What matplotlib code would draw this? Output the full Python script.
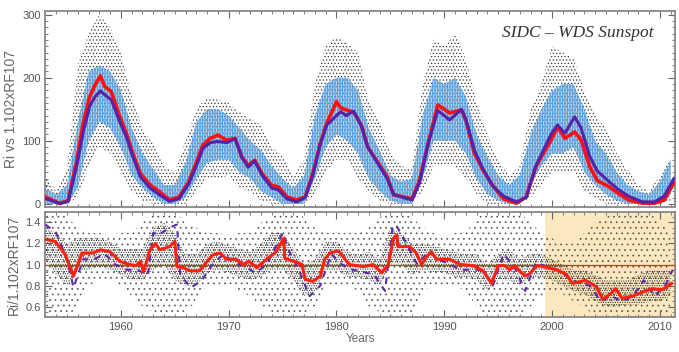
import numpy as np
import matplotlib.pyplot as plt
from matplotlib.ticker import MultipleLocator

# ---- smoothed series (top panel)
smooth_years = [1953.0, 1953.6, 1954.3, 1955.1, 1955.9, 1956.5, 1957.1, 1957.6, 1958.1, 1958.5,
                1959.1, 1959.9, 1960.5, 1961.1, 1961.8, 1962.7, 1963.6, 1964.5, 1965.4, 1966.3,
                1967.0, 1967.6, 1968.3, 1969.0, 1969.8, 1970.6, 1971.2, 1971.8, 1972.4, 1973.1,
                1974.0, 1974.6, 1975.4, 1976.3, 1977.1, 1977.8, 1978.5, 1979.1, 1980.0, 1980.4,
                1980.9, 1981.6, 1982.3, 1982.9, 1983.9, 1984.7, 1985.3, 1986.2, 1987.0, 1987.7,
                1988.5, 1989.4, 1990.5, 1991.6, 1992.0, 1992.8, 1993.6, 1994.5, 1995.5, 1996.7,
                1997.6, 1998.5, 1999.2, 1999.9, 2000.5, 2001.2, 2002.1, 2002.7, 2003.5, 2004.2,
                2005.3, 2006.2, 2007.1, 2008.4, 2009.5, 2010.4, 2011.3]
ri_smooth = [11, 6, 1, 5, 69, 128, 170, 189, 203, 186,
             178, 138, 112, 80, 48, 30, 19, 6, 11, 35,
             66, 93, 104, 109, 101, 104, 75, 61, 69, 48,
             29, 27, 11, 6, 11, 48, 96, 128, 162, 152,
             149, 145, 125, 90, 64, 43, 14, 11, 8, 37,
             96, 157, 144, 149, 133, 80, 53, 29, 8, 1,
             11, 59, 80, 101, 122, 104, 114, 101, 59, 37,
             27, 16, 6, 1, 1, 6, 33]
rf_smooth = [8, 5, 0, 4, 60, 114, 155, 170, 179, 173,
             165, 130, 106, 75, 43, 25, 14, 4, 8, 32,
             60, 88, 97, 99, 97, 103, 74, 58, 68, 45,
             25, 22, 8, 3, 10, 45, 95, 125, 140, 146,
             140, 147, 124, 90, 62, 40, 15, 10, 6, 33,
             95, 148, 133, 150, 134, 85, 55, 28, 12, 3,
             10, 60, 85, 110, 125, 112, 138, 120, 75, 52,
             35, 22, 12, 3, 3, 12, 40]

# ---- daily scatter envelopes (yearly), top panel
env_years = list(range(1953, 2012))
rf_daily_lo = [0, 0, 0, 25, 100, 130, 120, 90, 45, 25, 10, 0, 0, 10, 40, 65, 70, 70, 50, 40,
               20, 10, 0, 0, 0, 40, 90, 110, 100, 80, 40, 20, 5, 0, 0, 40, 100, 100, 100, 80,
               40, 15, 5, 0, 0, 30, 60, 80, 80, 90, 50, 30, 15, 5, 0, 0, 0, 0, 15]
rf_daily_hi = [25, 15, 30, 130, 210, 220, 210, 180, 120, 80, 55, 30, 30, 65, 130, 150, 150, 140, 120, 100,
               85, 60, 40, 25, 45, 140, 190, 200, 200, 180, 120, 85, 45, 35, 40, 140, 200, 190, 200, 170,
               110, 75, 45, 30, 45, 110, 150, 180, 190, 190, 150, 100, 80, 50, 30, 20, 15, 35, 70]
ri_daily_lo = [0, 0, 0, 10, 60, 90, 80, 50, 20, 5, 0, 0, 0, 0, 20, 40, 40, 45, 25, 20,
               5, 0, 0, 0, 0, 15, 50, 70, 70, 40, 20, 5, 0, 0, 0, 20, 60, 60, 60, 40,
               15, 0, 0, 0, 0, 10, 30, 50, 50, 50, 20, 10, 0, 0, 0, 0, 0, 0, 5]
ri_daily_hi = [45, 20, 55, 220, 270, 300, 280, 240, 170, 120, 95, 60, 50, 100, 150, 170, 165, 160, 145, 135,
               125, 90, 75, 45, 70, 190, 250, 265, 255, 240, 160, 130, 80, 60, 55, 190, 260, 250, 270, 230,
               160, 110, 70, 45, 60, 150, 190, 250, 240, 230, 180, 140, 120, 80, 55, 30, 20, 45, 70]

# ---- ratio panel
ratio_years = [1953.0, 1953.9, 1954.8, 1955.6, 1956.4, 1957.4, 1958.1, 1959.0, 1959.9, 1960.8,
               1961.4, 1961.8, 1962.1, 1962.7, 1963.2, 1963.6, 1964.5, 1965.0, 1965.2, 1965.8,
               1966.4, 1967.3, 1968.0, 1968.5, 1969.2, 1969.8, 1970.7, 1971.3, 1971.9, 1972.6,
               1973.5, 1974.4, 1975.1, 1975.2, 1976.3, 1976.8, 1977.1, 1977.8, 1978.5, 1978.9,
               1979.4, 1980.2, 1980.8, 1981.2, 1982.5, 1983.4, 1984.2, 1984.8, 1985.3, 1985.6,
               1985.7, 1986.8, 1987.4, 1987.9, 1988.4, 1988.8, 1989.3, 1990.5, 1991.5, 1992.7,
               1993.6, 1994.4, 1995.0, 1995.6, 1996.1, 1996.5, 1997.5, 1997.9, 1998.6, 1999.2,
               2000.4, 2001.3, 2001.9, 2003.1, 2004.1, 2004.7, 2005.4, 2005.9, 2006.5, 2007.5,
               2008.4, 2009.3, 2010.2, 2011.1]
ratio_smooth = [1.24, 1.22, 1.10, 0.89, 1.11, 1.11, 1.14, 1.12, 1.03, 1.00,
                0.99, 1.03, 0.93, 1.14, 1.20, 1.14, 1.17, 1.22, 0.98, 0.97,
                0.94, 0.94, 1.03, 1.09, 1.11, 1.05, 1.05, 1.00, 1.03, 0.97,
                1.05, 1.12, 1.25, 1.06, 1.02, 1.00, 0.86, 0.84, 0.89, 1.05,
                1.11, 1.13, 1.05, 1.00, 0.98, 1.00, 0.92, 1.00, 1.25, 1.28,
                1.17, 1.17, 1.11, 1.00, 1.08, 1.12, 1.05, 1.05, 1.00, 0.99,
                0.94, 0.82, 0.99, 0.99, 0.95, 0.99, 0.89, 0.91, 0.99, 0.98,
                0.95, 0.91, 0.82, 0.85, 0.79, 0.67, 0.72, 0.77, 0.68, 0.70,
                0.74, 0.77, 0.76, 0.82]

ratio_fit_years = [1953.0, 1954.0, 1955.0, 1955.6, 1956.5, 1957.5, 1958.5, 1959.5, 1960.5, 1961.5,
                   1962.5, 1963.0, 1963.5, 1964.5, 1965.2, 1965.5, 1966.5, 1967.5, 1968.5, 1969.5,
                   1970.5, 1971.5, 1972.5, 1973.5, 1974.5, 1975.0, 1975.5, 1976.5, 1977.5, 1978.5,
                   1979.5, 1980.5, 1981.5, 1982.5, 1983.5, 1984.5, 1985.2, 1985.5, 1986.5, 1987.5,
                   1988.5, 1989.5, 1990.5, 1991.5, 1992.5, 1993.5, 1994.5, 1995.5, 1996.5, 1997.5,
                   1998.5, 1999.5, 2000.5, 2001.5, 2002.5, 2003.5, 2004.5, 2005.5, 2006.5, 2007.5,
                   2008.5, 2009.5, 2010.5, 2011.2]
ratio_fit = [1.38, 1.30, 1.05, 0.78, 1.05, 1.05, 1.10, 1.00, 0.95, 0.95,
             0.90, 1.30, 1.28, 1.35, 1.38, 0.90, 0.78, 0.85, 1.00, 1.10,
             1.02, 0.98, 0.92, 1.00, 1.20, 1.30, 1.15, 0.95, 0.70, 0.80,
             1.10, 1.00, 0.95, 0.93, 0.90, 0.75, 1.35, 1.38, 1.20, 1.00,
             1.12, 1.05, 1.00, 0.95, 0.95, 0.95, 0.80, 1.10, 0.98, 0.75,
             1.02, 0.98, 0.95, 0.88, 0.82, 0.80, 0.65, 0.70, 0.65, 0.70,
             0.85, 0.70, 0.80, 0.95]

ratio_lo = [0.55, 0.5, 0.5, 0.6, 0.8, 0.85, 0.85, 0.8, 0.7, 0.6, 0.55, 0.5, 0.5, 0.55, 0.65, 0.8, 0.8, 0.8, 0.75, 0.7,
            0.6, 0.55, 0.5, 0.5, 0.5, 0.6, 0.8, 0.8, 0.8, 0.75, 0.6, 0.55, 0.5, 0.5, 0.55, 0.75, 0.8, 0.8, 0.8, 0.75,
            0.6, 0.5, 0.5, 0.5, 0.5, 0.6, 0.7, 0.75, 0.72, 0.65, 0.6, 0.5, 0.5, 0.5, 0.5, 0.5, 0.5, 0.5, 0.55]
ratio_hi = [1.5, 1.5, 1.45, 1.35, 1.3, 1.3, 1.28, 1.3, 1.3, 1.4, 1.5, 1.5, 1.5, 1.4, 1.35, 1.3, 1.3, 1.28, 1.3, 1.3,
            1.4, 1.45, 1.5, 1.5, 1.45, 1.35, 1.3, 1.3, 1.3, 1.3, 1.35, 1.45, 1.5, 1.5, 1.45, 1.35, 1.3, 1.28, 1.3, 1.3,
            1.45, 1.5, 1.5, 1.5, 1.5, 1.4, 1.3, 1.25, 1.2, 1.2, 1.3, 1.4, 1.45, 1.5, 1.5, 1.5, 1.5, 1.4, 1.3]
ratio_core_lo = [1.05, 0.9, 0.8, 0.95, 0.95, 0.98, 0.95, 0.9, 0.85, 0.85, 0.95, 1.0, 0.85, 0.8, 0.8, 0.92, 0.95, 0.92, 0.88, 0.85,
                 0.88, 0.95, 0.95, 0.85, 0.7, 0.75, 0.95, 0.95, 0.88, 0.88, 0.85, 0.8, 1.0, 1.0, 0.9, 0.95, 0.92, 0.92, 0.88, 0.88,
                 0.85, 0.75, 0.85, 0.85, 0.8, 0.88, 0.88, 0.85, 0.8, 0.75, 0.72, 0.65, 0.6, 0.6, 0.62, 0.62, 0.65, 0.65, 0.7]
ratio_core_hi = [1.35, 1.3, 1.2, 1.25, 1.25, 1.25, 1.22, 1.15, 1.15, 1.15, 1.35, 1.4, 1.3, 1.1, 1.1, 1.2, 1.22, 1.18, 1.15, 1.12,
                 1.2, 1.3, 1.3, 1.15, 1.0, 1.05, 1.22, 1.22, 1.12, 1.1, 1.12, 1.05, 1.35, 1.3, 1.2, 1.2, 1.18, 1.15, 1.12, 1.1,
                 1.1, 1.0, 1.1, 1.15, 1.05, 1.1, 1.1, 1.05, 1.0, 0.95, 0.95, 0.9, 0.85, 0.85, 0.85, 0.9, 0.95, 0.95, 0.95]

recent_start = 1999.3

plt.rcParams['font.family'] = ['Liberation Sans', 'DejaVu Sans']
plt.rcParams['hatch.linewidth'] = 0.5
grey = '#666666'

fig = plt.figure(figsize=(6.79, 3.52), dpi=100)
ax1 = fig.add_axes([0.067, 0.412, 0.927, 0.557])
ax2 = fig.add_axes([0.067, 0.099, 0.927, 0.299])

# top panel: daily values shown as speckled bands
ax1.fill_between(env_years, ri_daily_lo, ri_daily_hi, facecolor='none', edgecolor='#333333',
                 hatch='.' * 5, lw=0, zorder=1)
ax1.fill_between(env_years, rf_daily_lo, rf_daily_hi, facecolor='#9ccbf2', alpha=0.55,
                 edgecolor='none', lw=0, zorder=2)
ax1.fill_between(env_years, rf_daily_lo, rf_daily_hi, facecolor='none',
                 edgecolor='#2a84d8', hatch='|' * 10, lw=0, zorder=2)
ax1.plot(smooth_years, ri_smooth, color='#ff1010', lw=2.6, zorder=4)
ax1.plot(smooth_years, rf_smooth, color='#5522aa', lw=2.2, zorder=5)
ax1.set_ylim(-5, 306)
ax1.set_ylabel('Ri vs 1.102xRF107', fontsize=10, color=grey, labelpad=3)
ax1.text(0.845, 0.888, 'SIDC \u2013 WDS Sunspot', transform=ax1.transAxes, ha='center', va='center',
         fontsize=12.5, style='italic', family='Liberation Serif', color='#333333')
ax1.yaxis.set_major_locator(MultipleLocator(100))
ax1.yaxis.set_minor_locator(MultipleLocator(10))
ax1.tick_params(labelbottom=False)

# bottom panel
ax2.axvspan(recent_start, 2011.4, color='#fbe8bf', lw=0, zorder=0)
ax2.fill_between(env_years, ratio_lo, ratio_hi, facecolor='none', edgecolor='#555555',
                 hatch='.' * 3, lw=0, zorder=1)
ax2.fill_between(env_years, ratio_core_lo, ratio_core_hi, facecolor='none', edgecolor='#222222',
                 hatch='.' * 7, lw=0, zorder=2)
ax2.axhline(1.0, color='#e03020', lw=0.9, zorder=3)
ax2.plot(ratio_fit_years, ratio_fit, color='#5a2aa8', lw=1.5, ls=(0, (3, 3)), zorder=4)
ax2.plot(ratio_years, ratio_smooth, color='#ff2010', lw=2.2, zorder=5)
ax2.set_ylim(0.5, 1.5)
ax2.set_ylabel('Ri/1.102xRF107', fontsize=10, color=grey, labelpad=3)
ax2.set_xlabel('Years', fontsize=8.5, color=grey, labelpad=1)
ax2.set_yticks([0.6, 0.8, 1.0, 1.2, 1.4])
ax2.yaxis.set_minor_locator(MultipleLocator(0.05))

for ax in (ax1, ax2):
    ax.set_xlim(1953.0, 2011.4)
    ax.xaxis.set_major_locator(MultipleLocator(10))
    ax.xaxis.set_minor_locator(MultipleLocator(1))
    ax.tick_params(which='both', direction='in', top=True, right=True, colors=grey,
                   labelsize=8, labelcolor='#555555')
    ax.tick_params(which='major', length=5, width=0.8)
    ax.tick_params(which='minor', length=2.5, width=0.6)
    for s in ax.spines.values():
        s.set_color('#888888')
        s.set_linewidth(1.3)
ax2.yaxis.set_major_formatter(plt.FuncFormatter(lambda v, p: '%.1f' % v))

fig.savefig('out.png', dpi=100)
